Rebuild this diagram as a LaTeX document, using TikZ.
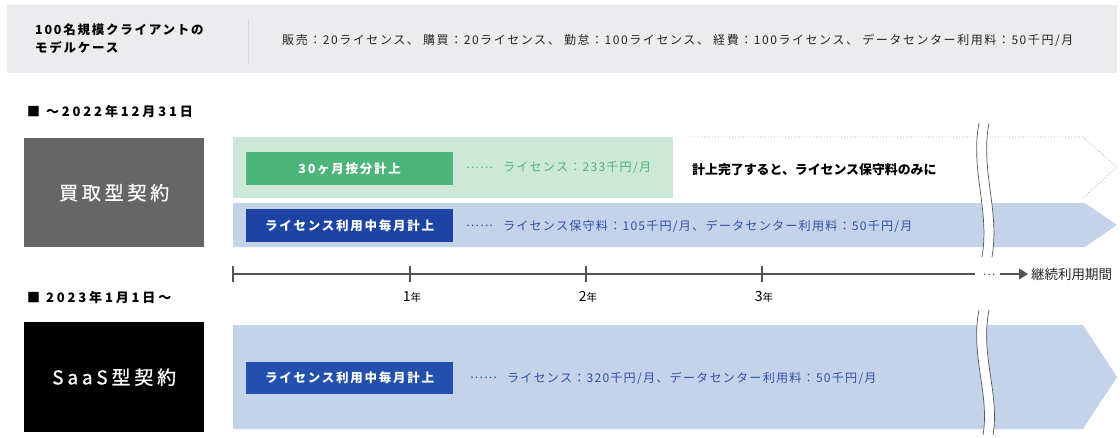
\documentclass[tikz,border=0pt]{standalone}
\usepackage{fontspec}
\usetikzlibrary{arrows.meta}
\setmainfont{Noto Sans CJK JP}
\newfontfamily\jpsp[LetterSpace=14]{Noto Sans CJK JP}
\newfontfamily\jpsm[LetterSpace=10]{Noto Sans CJK JP}
\newfontfamily\jphd[LetterSpace=13]{Noto Sans CJK JP}
\newfontfamily\jpsec[LetterSpace=22]{Noto Sans CJK JP}
\newfontfamily\jpwide[LetterSpace=20,FakeBold=0.8]{Noto Sans CJK JP}
\definecolor{bandgray}{HTML}{ECECEE}
\definecolor{sepgray}{HTML}{D6D6D8}
\definecolor{boxgray}{HTML}{666666}
\definecolor{lgreen}{HTML}{CDE8D9}
\definecolor{mgreen}{HTML}{4DB47A}
\definecolor{lblue}{HTML}{C4D3E9}
\definecolor{dblue}{HTML}{1E44A3}
\definecolor{dblue2}{HTML}{2350AC}
\definecolor{tblue}{HTML}{3050A8}
\definecolor{axisgray}{HTML}{555555}
\definecolor{dotgray}{HTML}{AAAAAA}
\newcommand{\leaderdots}{\raisebox{.3em}{……}\hspace{10pt}}
\begin{document}
\begin{tikzpicture}[x=1pt,y=-1pt,
  lbl/.style={inner sep=0pt,anchor=west},
  btn/.style={inner sep=0pt,anchor=north west,text=white,font=\jpsp\bfseries\fontsize{12.5}{14}\selectfont},
  bigbox/.style={inner sep=0pt,anchor=north west,minimum width=180,text=white,font=\jpwide\fontsize{19}{22}\selectfont},
  small/.style={font=\jpsm\fontsize{12.1}{14}\selectfont},
  sectitle/.style={inner sep=0pt,anchor=west,font=\jpsec\bfseries\fontsize{13}{15}\selectfont},
  brkline/.style={draw=axisgray,line width=0.7pt},
  axisline/.style={axisgray,line width=1.2pt}]
\useasboundingbox (0,0) rectangle (1120,437);
% header band
\fill[bandgray] (7,5) rectangle (1117,73);
\draw[sepgray,line width=0.8pt] (248,20) -- (248,63);
\node[lbl,align=left,font=\jpsp\bfseries\fontsize{12.5}{18}\selectfont] (hdrL) at (35,39) {100名規模クライアントの\\モデルケース};
\node[lbl,font=\jphd\fontsize{12}{14}\selectfont,text=black!85] (hdrR) at (282,40) {販売：20ライセンス、 購買：20ライセンス、 勤怠：100ライセンス、 経費：100ライセンス、 データセンター利用料：50千円/月};
% section 1
\node[sectitle] (sec1) at (27,112) {■ ～2022年12月31日};
\node[bigbox,fill=boxgray,minimum height=109] (kaitori) at (24,138) {買取型契約};
\fill[lgreen] (233,137) rectangle (673,198);
\fill[lblue] (233,203) -- (1085,203) -- (1117,225) -- (1085,247) -- (233,247) -- cycle;
\draw[dotgray,dotted,line width=0.8pt] (690,137) -- (1083,137) -- (1117,167) -- (1083,198);
\node[btn,fill=mgreen,minimum width=207,minimum height=33] (b1) at (246,152) {30ヶ月按分計上};
\node[btn,fill=dblue,minimum width=207,minimum height=33] (b2) at (246,209) {ライセンス利用中毎月計上};
\node[lbl,small,text=mgreen] (t1) at (466,168) {\leaderdots ライセンス：233千円/月};
\node[lbl,font=\bfseries\fontsize{12.9}{14}\selectfont] (t1b) at (692,170) {計上完了すると、ライセンス保守料のみに};
\node[lbl,small,text=tblue] (t2) at (466,226) {\leaderdots ライセンス保守料：105千円/月、データセンター利用料：50千円/月};
% break 1
\fill[white] (979,123) .. controls (970,170) and (990,210) .. (982,257) -- (992,257) .. controls (1000,210) and (980,170) .. (989,123) -- cycle;
\draw[brkline] (979,123) .. controls (970,170) and (990,210) .. (982,257);
\draw[brkline] (989,123) .. controls (980,170) and (1000,210) .. (992,257);
% axis
\coordinate (a0) at (233,274);
\coordinate (aend) at (975,274);
\draw[axisline] (a0) -- (aend);
\foreach \x in {233,410,586,762} {
  \draw[axisline] (\x,266) -- (\x,282);
}
\foreach \x/\n in {410/1,586/2,762/3} {
  \node[inner sep=0pt] (y\n) at (\x+2,297) {{\fontsize{14}{15}\selectfont\n}{\fontsize{10.5}{12}\selectfont 年}};
}
\node[inner sep=0pt,anchor=base,text=axisgray,font=\fontsize{12}{14}\selectfont] (dots) at (989,275.5) {…};
\coordinate (arrS) at (1000,274);
\node[lbl,font=\fontsize{13.5}{15}\selectfont,text=black!85] (cont) at (1031,274) {継続利用期間};
\draw[axisline,-{Triangle[length=9pt,width=11pt]}] (arrS) -- ([xshift=-3pt]cont.west);
% section 2
\node[sectitle] (sec2) at (27,298) {■ 2023年1月1日～};
\node[bigbox,fill=black,minimum height=110] (saas) at (24,322) {SaaS型契約};
\fill[lblue] (233,325) -- (1083,325) -- (1117,377) -- (1083,429) -- (233,429) -- cycle;
\node[btn,fill=dblue2,minimum width=207,minimum height=32] (b3) at (246,362) {ライセンス利用中毎月計上};
\node[lbl,small,text=tblue] (t3) at (470,378) {\leaderdots ライセンス：320千円/月、データセンター利用料：50千円/月};
% break 2
\fill[white] (979,310) .. controls (970,355) and (990,395) .. (983,435) -- (993,435) .. controls (1000,395) and (980,355) .. (989,310) -- cycle;
\draw[brkline] (979,310) .. controls (970,355) and (990,395) .. (983,435);
\draw[brkline] (989,310) .. controls (980,355) and (1000,395) .. (993,435);
\end{tikzpicture}
\end{document}
